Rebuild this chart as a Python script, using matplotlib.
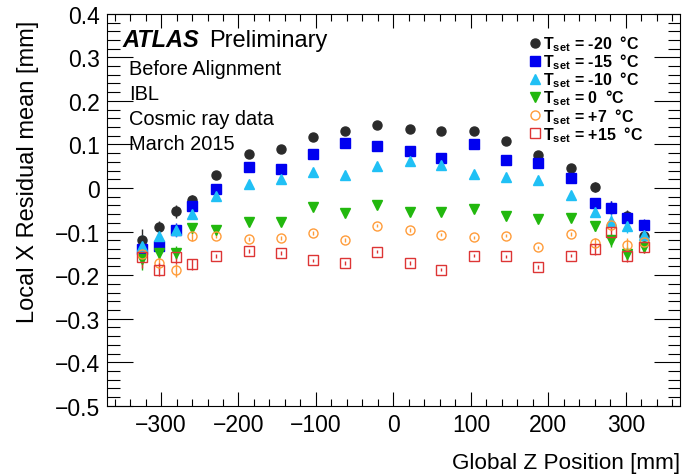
import numpy as np
import matplotlib.pyplot as plt
from matplotlib.ticker import MultipleLocator
from matplotlib.lines import Line2D

plt.rcParams['font.family'] = ['Liberation Sans', 'DejaVu Sans']
plt.rcParams['mathtext.fontset'] = 'custom'
plt.rcParams['mathtext.rm'] = 'Liberation Sans'
plt.rcParams['mathtext.bf'] = 'Liberation Sans:bold'
plt.rcParams['mathtext.it'] = 'Liberation Sans:italic'

# module positions along the stave (mm)
zpos = [-324, -302, -281, -260, -229, -187, -145, -104, -62, -21,
        21, 62, 104, 145, 187, 229, 260, 281, 302, 324]

# residual means per set temperature (mm)
res_m20 = [-0.120, -0.090, -0.053, -0.027, 0.031, 0.078, 0.090, 0.117, 0.130, 0.145,
           0.135, 0.130, 0.131, 0.108, 0.076, 0.047, 0.002, -0.045, -0.065, -0.109]
res_m15 = [-0.139, -0.134, -0.096, -0.042, -0.003, 0.048, 0.043, 0.078, 0.104, 0.097,
           0.086, 0.070, 0.101, 0.064, 0.058, 0.023, -0.034, -0.045, -0.068, -0.084]
res_m10 = [-0.132, -0.109, -0.097, -0.059, -0.019, 0.010, 0.020, 0.036, 0.029, 0.050,
           0.061, 0.052, 0.033, 0.026, 0.018, -0.017, -0.054, -0.075, -0.088, -0.107]
res_0 = [-0.162, -0.149, -0.148, -0.092, -0.096, -0.077, -0.077, -0.044, -0.057, -0.038,
         -0.055, -0.054, -0.048, -0.064, -0.072, -0.068, -0.087, -0.120, -0.151, -0.136]
res_p7 = [-0.152, -0.172, -0.189, -0.110, -0.110, -0.117, -0.115, -0.103, -0.119, -0.086,
          -0.096, -0.107, -0.113, -0.109, -0.136, -0.105, -0.126, -0.084, -0.130, -0.124]
res_p15 = [-0.159, -0.187, -0.159, -0.175, -0.156, -0.145, -0.149, -0.166, -0.172, -0.146,
           -0.172, -0.187, -0.155, -0.157, -0.181, -0.155, -0.141, -0.101, -0.155, -0.136]

# rough statistical errors (3D modules at the ends are larger)
res_err = [0.025, 0.015, 0.015, 0.012, 0.004, 0.004, 0.004, 0.004, 0.004, 0.004,
           0.004, 0.004, 0.004, 0.004, 0.004, 0.004, 0.012, 0.015, 0.015, 0.012]

temps = ['-20', '-15', '-10', '0', '+7', '+15']
series = [res_m20, res_m15, res_m10, res_0, res_p7, res_p15]
colors = ['#2b2b2b', '#0000f0', '#20c0f5', '#22b80e', '#ff9c3a', '#dd3535']
markers = ['o', 's', '^', 'v', 'o', 's']
filled = [True, True, True, True, False, False]

fig = plt.figure(figsize=(6.89, 4.77), dpi=100)
ax = fig.add_axes([0.155, 0.147, 0.832, 0.822])

handles = []
for t, vals, c, m, f in zip(temps, series, colors, markers, filled):
    ms = 6.8 if m != 'o' else 6.5
    ax.errorbar(zpos, vals, yerr=res_err, fmt=m, color=c, ms=ms,
                mfc=c if f else 'none', mec=c, mew=1.0, elinewidth=1.0, capsize=0)
    handles.append(Line2D([], [], ls='none', marker=m, ms=ms, color=c,
                          mfc=c if f else 'none', mec=c, mew=1.0,
                          label=r'$\mathbf{T_{set}}$ = ' + t + '  °C'))

ax.set_xlim(-370, 370)
ax.set_ylim(-0.5, 0.4)
ax.xaxis.set_major_locator(MultipleLocator(100))
ax.xaxis.set_minor_locator(MultipleLocator(20))
ax.yaxis.set_major_locator(MultipleLocator(0.1))
ax.yaxis.set_minor_locator(MultipleLocator(0.02))
ax.tick_params(which='both', direction='in', top=True, right=True, labelsize=16.5, width=0.8)
ax.tick_params(axis='x', which='major', length=10, pad=5)
ax.tick_params(axis='x', which='minor', length=5)
ax.tick_params(axis='y', which='major', length=19, pad=5)
ax.tick_params(axis='y', which='minor', length=9)
ax.set_yticks(np.round(np.arange(-0.5, 0.41, 0.1), 1))
ax.set_yticklabels(['−0.5', '−0.4', '−0.3', '−0.2', '−0.1', '0', '0.1', '0.2', '0.3', '0.4'])

ax.set_xlabel('Global Z Position [mm]', fontsize=16.2, ha='right', x=1.0, labelpad=12)
ax.set_ylabel('Local X Residual mean [mm]', fontsize=17, ha='right', y=0.985, labelpad=11)

ax.text(0.027, 0.934, 'ATLAS', transform=ax.transAxes, fontsize=17, fontweight='bold',
        fontstyle='italic', va='center')
ax.text(0.179, 0.934, 'Preliminary', transform=ax.transAxes, fontsize=17, va='center')
info = ['Before Alignment', 'IBL', 'Cosmic ray data', 'March 2015']
for i, s in enumerate(info):
    ax.text(0.039, 0.86 - i * 0.0635, s, transform=ax.transAxes, fontsize=14.4, va='center')

ax.legend(handles=handles, loc='upper left', bbox_to_anchor=(0.738, 0.95), frameon=False,
          prop={'weight': 'bold', 'size': 11.5}, handlelength=0.6,
          handletextpad=0.2, labelspacing=-0.1, borderaxespad=0, borderpad=0)

fig.savefig('out.png', dpi=100)
